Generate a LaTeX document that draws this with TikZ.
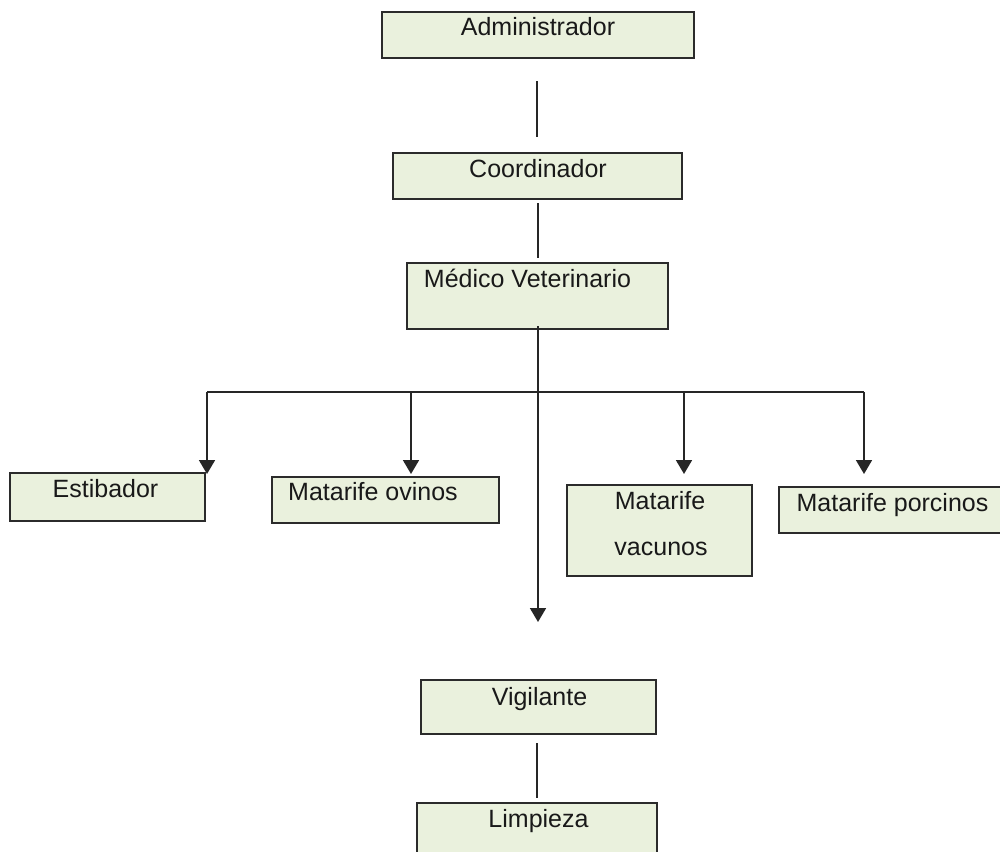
\documentclass[tikz,border=0pt]{standalone}
\usepackage{fontspec}
\setmainfont{Liberation Sans}
\usetikzlibrary{arrows.meta}
\definecolor{boxfill}{HTML}{EAF1DD}
\definecolor{boxline}{HTML}{2B2B2B}
\tikzset{
  orgbox/.style={draw=boxline, line width=2pt, fill=boxfill, inner sep=0pt, rectangle},
  lbl/.style={anchor=base, inner sep=0pt, text=black!90, font=\fontsize{25}{30}\selectfont},
  conn/.style={draw=black!85, line width=1.8pt},
  arr/.style={conn, -{Triangle[width=16pt,length=14pt]}}
}
\begin{document}
\begin{tikzpicture}[x=1pt,y=-1pt]
\clip (0,0) rectangle (1000,851);
\fill[white] (0,0) rectangle (1000,851);
% boxes
\node[orgbox, minimum width=312pt, minimum height=46pt] (adm) at (538,35) {};
\node[orgbox, minimum width=289pt, minimum height=46pt] (coord) at (537.5,176) {};
\node[orgbox, minimum width=261pt, minimum height=66pt] (med) at (537.5,296) {};
\node[orgbox, minimum width=195pt, minimum height=48pt] (est) at (107.5,497) {};
\node[orgbox, minimum width=227pt, minimum height=46pt] (ovi) at (385.5,500) {};
\node[orgbox, minimum width=185pt, minimum height=91pt] (vac) at (659.5,530.5) {};
\node[orgbox, minimum width=235pt, minimum height=46pt] (por) at (896.5,510) {};
\node[orgbox, minimum width=235pt, minimum height=54pt] (vig) at (538.5,707) {};
\node[orgbox, minimum width=240pt, minimum height=67pt] (lim) at (537,836.5) {};
% labels
\node[lbl] (tadm) at (538,36) {Administrador};
\node[lbl] (tcoord) at (538,177) {Coordinador};
\node[lbl] (tmed) at (527.5,287) {Médico Veterinario};
\node[lbl] (test) at (105.5,497) {Estibador};
\node[lbl] (tovi) at (373,500) {Matarife ovinos};
\node[lbl] (tvac1) at (660,509) {Matarife};
\node[lbl] (tvac2) at (661,555) {vacunos};
\node[lbl] (tpor) at (892.5,511) {Matarife porcinos};
\node[lbl] (tvig) at (539.5,705) {Vigilante};
\node[lbl] (tlim) at (538.5,827) {Limpieza};
% bus coordinates
\coordinate (bus) at (538,392);
\coordinate (b1) at (207,392);
\coordinate (b2) at (411,392);
\coordinate (b3) at (684,392);
\coordinate (b4) at (864,392);
% connectors
\draw[conn] ([xshift=-1pt,yshift=-22pt]adm.south) -- ([xshift=-0.5pt,yshift=15pt]coord.north);
\draw[conn] ([xshift=0.5pt,yshift=-3pt]coord.south) -- ([xshift=0.5pt,yshift=4pt]med.north);
\draw[arr] ([xshift=0.5pt,yshift=4pt]med.south) -- ([xshift=-0.5pt,yshift=57pt]vig.north);
\draw[conn] ([xshift=-1.5pt,yshift=-8pt]vig.south) -- ([yshift=4pt]lim.north);
\draw[conn] (b1) -- (b4);
\draw[arr] (b1) -- ([yshift=-2pt]b1 |- est.north);
\draw[arr] (b2) -- ([yshift=2pt]b2 |- ovi.north);
\draw[arr] (b3) -- ([yshift=10pt]b3 |- vac.north);
\draw[arr] (b4) -- ([yshift=12pt]b4 |- por.north);
\end{tikzpicture}
\end{document}
